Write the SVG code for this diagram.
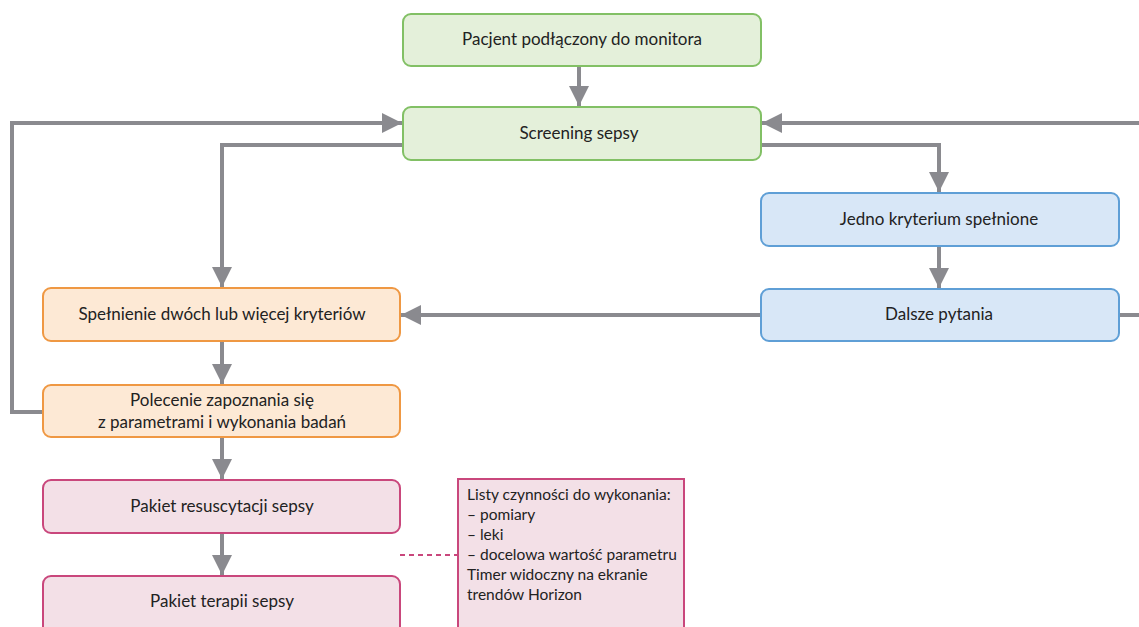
<svg xmlns="http://www.w3.org/2000/svg" width="1139" height="627" viewBox="0 0 1139 627">
<style>
.n rect{stroke-width:2}
.g rect{fill:#e4f0da;stroke:#82c065}
.b rect{fill:#d8e7f7;stroke:#5f9fd6}
.o rect{fill:#fde9d5;stroke:#ef9843}
.p rect{fill:#f3e0e7;stroke:#c9477c}
text{font-family:"Lato","Open Sans","Liberation Sans",sans-serif;font-size:17px;fill:#222;text-anchor:middle}
.c path{fill:none;stroke:#8a8a8f;stroke-width:4}
.note text{text-anchor:start;font-size:15.5px}
</style>
<defs>
<marker id="ah" viewBox="0 0 10 10" refX="10" refY="5" markerWidth="5" markerHeight="5" markerUnits="strokeWidth" orient="auto">
<path d="M0,0 L10,5 L0,10 z" fill="#8a8a8f"/>
</marker>
</defs>
<g class="c" id="connectors">
<path d="M579,66 V106" marker-end="url(#ah)"/>
<path d="M43,412 H12 V123 H402" marker-end="url(#ah)"/>
<path d="M403,145 H222 V287" marker-end="url(#ah)"/>
<path d="M1139,123 H762" marker-end="url(#ah)"/>
<path d="M761,145 H939 V192" marker-end="url(#ah)"/>
<path d="M939,246 V288" marker-end="url(#ah)"/>
<path d="M761,315 H401" marker-end="url(#ah)"/>
<path d="M1119,315 H1139"/>
<path d="M222,341 V384" marker-end="url(#ah)"/>
<path d="M222,437 V479" marker-end="url(#ah)"/>
<path d="M222,533 V575" marker-end="url(#ah)"/>
<path d="M400,555 H457" style="stroke:#c9477c;stroke-width:2;stroke-dasharray:5,4"/>
</g>
<g id="n1" class="n g"><rect x="403" y="14" width="358" height="52" rx="8"/><text x="582" y="45">Pacjent podłączony do monitora</text></g>
<g id="n2" class="n g"><rect x="403" y="107" width="358" height="53" rx="8"/><text x="579" y="139">Screening sepsy</text></g>
<g id="n3" class="n b"><rect x="761" y="193" width="358" height="53" rx="8"/><text x="939" y="225">Jedno kryterium spełnione</text></g>
<g id="n4" class="n b"><rect x="761" y="289" width="358" height="52" rx="8"/><text x="939" y="320">Dalsze pytania</text></g>
<g id="n5" class="n o"><rect x="43" y="288" width="357" height="53" rx="8"/><text x="222" y="320">Spełnienie dwóch lub więcej kryteriów</text></g>
<g id="n6" class="n o"><rect x="43" y="385" width="357" height="52" rx="8"/><text x="222" y="406">Polecenie zapoznania się</text><text x="222" y="428">z parametrami i wykonania badań</text></g>
<g id="n7" class="n p"><rect x="43" y="480" width="357" height="53" rx="8"/><text x="222" y="512">Pakiet resuscytacji sepsy</text></g>
<g id="n8" class="n p"><rect x="43" y="576" width="357" height="70" rx="8"/><text x="222" y="607">Pakiet terapii sepsy</text></g>
<g id="note" class="n p note"><rect x="458" y="479" width="226" height="170" rx="0"/>
<text x="467" y="500">Listy czynności do wykonania:</text>
<text x="467" y="520">– pomiary</text>
<text x="467" y="540">– leki</text>
<text x="467" y="560">– docelowa wartość parametru</text>
<text x="467" y="580">Timer widoczny na ekranie</text>
<text x="467" y="600">trendów Horizon</text>
</g>
</svg>
